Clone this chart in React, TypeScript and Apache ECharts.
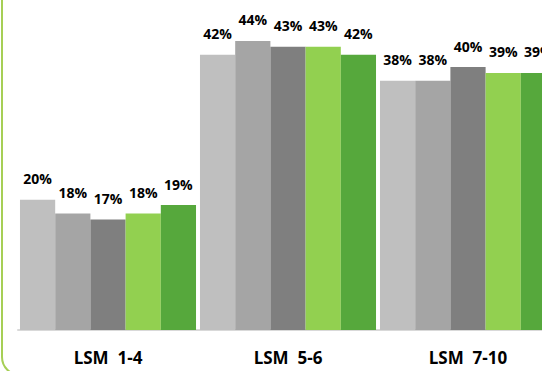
import React, { useEffect, useRef } from "react";
import * as echarts from "echarts";

const categories = ["LSM  1-4", "LSM  5-6", "LSM  7-10"];
const seriesA = [19.9, 42.1, 38.1];
const seriesB = [17.8, 44.2, 38.1];
const seriesC = [16.9, 43.3, 40.2];
const seriesD = [17.8, 43.3, 39.3];
const seriesE = [19.1, 42.1, 39.3];
const seriesNames = ["A", "B", "C", "D", "E"];
const seriesColors = ["#bfbfbf", "#a5a5a5", "#7f7f7f", "#92d050", "#56a83c"];

export default function App() {
  const ref = useRef<HTMLDivElement>(null);
  useEffect(() => {
    if (!ref.current) return;
    const chart = echarts.init(ref.current, undefined, { renderer: "svg" });
    const data = [seriesA, seriesB, seriesC, seriesD, seriesE];
    chart.setOption({
      animation: false,
      backgroundColor: "#ffffff",
      grid: {
        left: 18,
        width: 540,
        top: 3,
        bottom: 41,
        containLabel: false,
        outerBoundsMode: "none",
      },
      xAxis: {
        type: "category",
        data: categories,
        axisLine: { show: true, lineStyle: { color: "#d9d9d9", width: 2 } },
        axisTick: { show: false },
        axisLabel: {
          color: "#000000",
          fontWeight: "bold",
          fontSize: 17,
          fontFamily: "Open Sans",
          margin: 19,
        },
      },
      yAxis: {
        type: "value",
        min: 0,
        max: 50,
        show: false,
        splitLine: { show: false },
      },
      graphic: [
        {
          type: "rect",
          shape: { x: 2, y: -30, width: 620, height: 405, r: 18 },
          style: { fill: "none", stroke: "#a6cf55", lineWidth: 2 },
          z: 10,
        },
      ],
      series: data.map((d, i) => ({
        name: seriesNames[i],
        type: "bar",
        data: d,
        barGap: "0%",
        barCategoryGap: "2.2%",
        itemStyle: { color: seriesColors[i] },
        label: {
          show: true,
          position: "top",
          distance: 14,
          color: "#000000",
          fontWeight: "bold",
          fontSize: 14,
          fontFamily: "Open Sans",
          formatter: (p: any) => Math.round(p.value) + "%",
        },
      })),
    });
    return () => chart.dispose();
  }, []);
  return <div ref={ref} style={{ width: 542, height: 371, position: "absolute", left: 0, top: 0 }} />;
}
